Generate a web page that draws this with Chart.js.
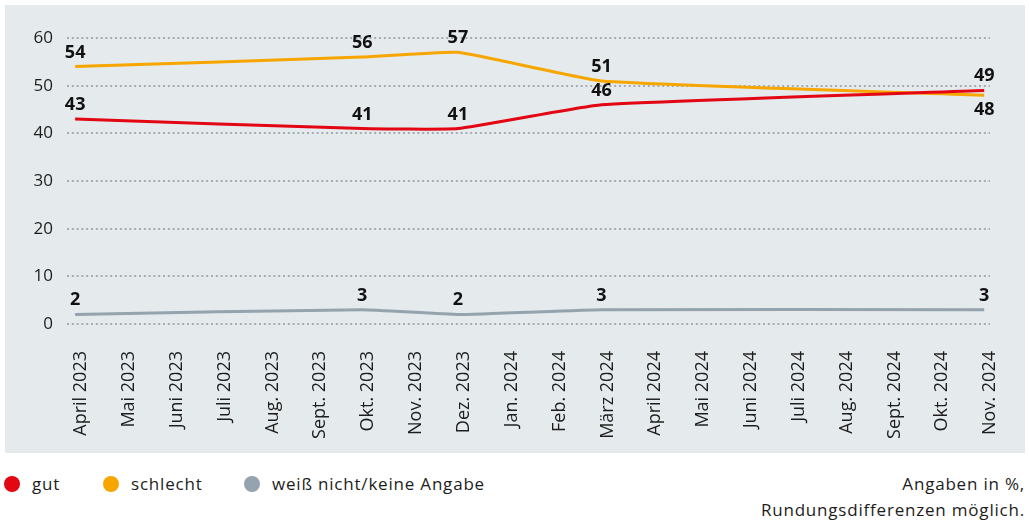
<!DOCTYPE html>
<html><head><meta charset="utf-8">
<script src="https://cdn.jsdelivr.net/npm/chart.js@4/dist/chart.umd.min.js"></script>
<style>
html,body{margin:0;padding:0;background:#fff;width:1029px;height:521px;overflow:hidden;font-family:"Open Sans",sans-serif;color:#1d1d1b;}
#wrap{position:absolute;left:5px;top:5px;width:1020px;height:448px;background:#e5eaed;}
#legend{position:absolute;left:4px;top:472px;font-size:17px;letter-spacing:0.8px;}
#legend span.item{position:absolute;white-space:nowrap;}
#legend i{display:inline-block;width:16px;height:16px;border-radius:50%;vertical-align:-2px;margin-right:12px;}
#note{position:absolute;right:4px;top:471px;text-align:right;font-size:17px;letter-spacing:0.8px;line-height:26px;}
</style></head><body>
<div id="wrap"><canvas id="c" width="1020" height="448"></canvas></div>
<div id="legend"></div>
<div id="note">Angaben in %,<br>Rundungsdifferenzen möglich.</div>
<script>
const categories = ["April 2023","Mai 2023","Juni 2023","Juli 2023","Aug. 2023","Sept. 2023","Okt. 2023","Nov. 2023","Dez. 2023","Jan. 2024","Feb. 2024","März 2024","April 2024","Mai 2024","Juni 2024","Juli 2024","Aug. 2024","Sept. 2024","Okt. 2024","Nov. 2024"];
const gut      = [43,null,null,null,null,null,41,null,41,null,null,46,null,null,null,null,null,null,null,49];
const schlecht = [54,null,null,null,null,null,56,null,57,null,null,51,null,null,null,null,null,null,null,48];
const weissNicht = [2,null,null,null,null,null,3,null,2,null,null,3,null,null,null,null,null,null,null,3];
const yTicks = [0,10,20,30,40,50,60];
const seriesNames = ["gut","schlecht","weiß nicht/keine Angabe"];
const colors = ["#e30613","#f7a600","#94a3ad"];

const toXY = arr => arr.map((v,i)=>({x:i,y:v})).filter(p=>p.y!=null);
const labelBelow = [[], [19], []]; // category indices where the value label sits below the point

const legend = document.getElementById('legend');
const legendX = [0, 99, 240];
seriesNames.forEach((n,i)=>{
  const s=document.createElement('span'); s.className='item'; s.style.left=legendX[i]+'px';
  s.innerHTML='<i style="background:'+colors[i]+'"></i>'+n; legend.appendChild(s);
});

const valueLabels = {
  id:'valueLabels',
  afterDatasetsDraw(chart){
    const ctx=chart.ctx; ctx.save();
    ctx.font='bold 18px "Open Sans", sans-serif'; ctx.fillStyle='#111'; ctx.textAlign='center';
    chart.data.datasets.forEach((ds,di)=>{
      const meta=chart.getDatasetMeta(di);
      meta.data.forEach((pt,k)=>{
        const p=ds.data[k]; if(p.y==null) return;
        if(labelBelow[di].includes(p.x)){ ctx.textBaseline='top'; ctx.fillText(String(p.y), pt.x, pt.y+6); }
        else { ctx.textBaseline='alphabetic'; ctx.fillText(String(p.y), pt.x, pt.y-9); }
      });
    });
    ctx.restore();
  }
};

new Chart(document.getElementById('c'),{
  type:'line',
  data:{datasets:[gut,schlecht,weissNicht].map((d,i)=>({
    label:seriesNames[i], data:toXY(d), borderColor:colors[i], backgroundColor:colors[i],
    borderWidth:3, pointRadius:0, tension:0.12
  }))},
  options:{
    responsive:false, animation:false, devicePixelRatio:1,
    layout:{padding:{left:0,right:32,top:33,bottom:0}},
    plugins:{legend:{display:false},tooltip:{enabled:false}},
    scales:{
      x:{type:'linear', min:-0.17, max:19.12,
        afterBuildTicks(s){ s.ticks = categories.map((c,i)=>({value:i})); },
        afterFit(s){ s.height = 129; },
        grid:{display:false}, border:{display:false},
        ticks:{autoSkip:false, minRotation:90, maxRotation:90, padding:19, labelOffset:6, color:'#1d1d1b',
          font:{family:'"Open Sans", sans-serif', size:18},
          callback:(v)=>categories[v] ?? ''}
      },
      y:{min:0,max:60,
        afterBuildTicks(s){ s.ticks = yTicks.map(v=>({value:v})); },
        afterFit(s){ s.width = 62; },
        border:{display:false, dash:[2,2.8]},
        grid:{color:'#a3acb2', lineWidth:2, drawTicks:false},
        ticks:{padding:14, color:'#1d1d1b', font:{family:'"Open Sans", sans-serif', size:17}}
      }
    }
  },
  plugins:[valueLabels]
});
</script>
</body></html>
